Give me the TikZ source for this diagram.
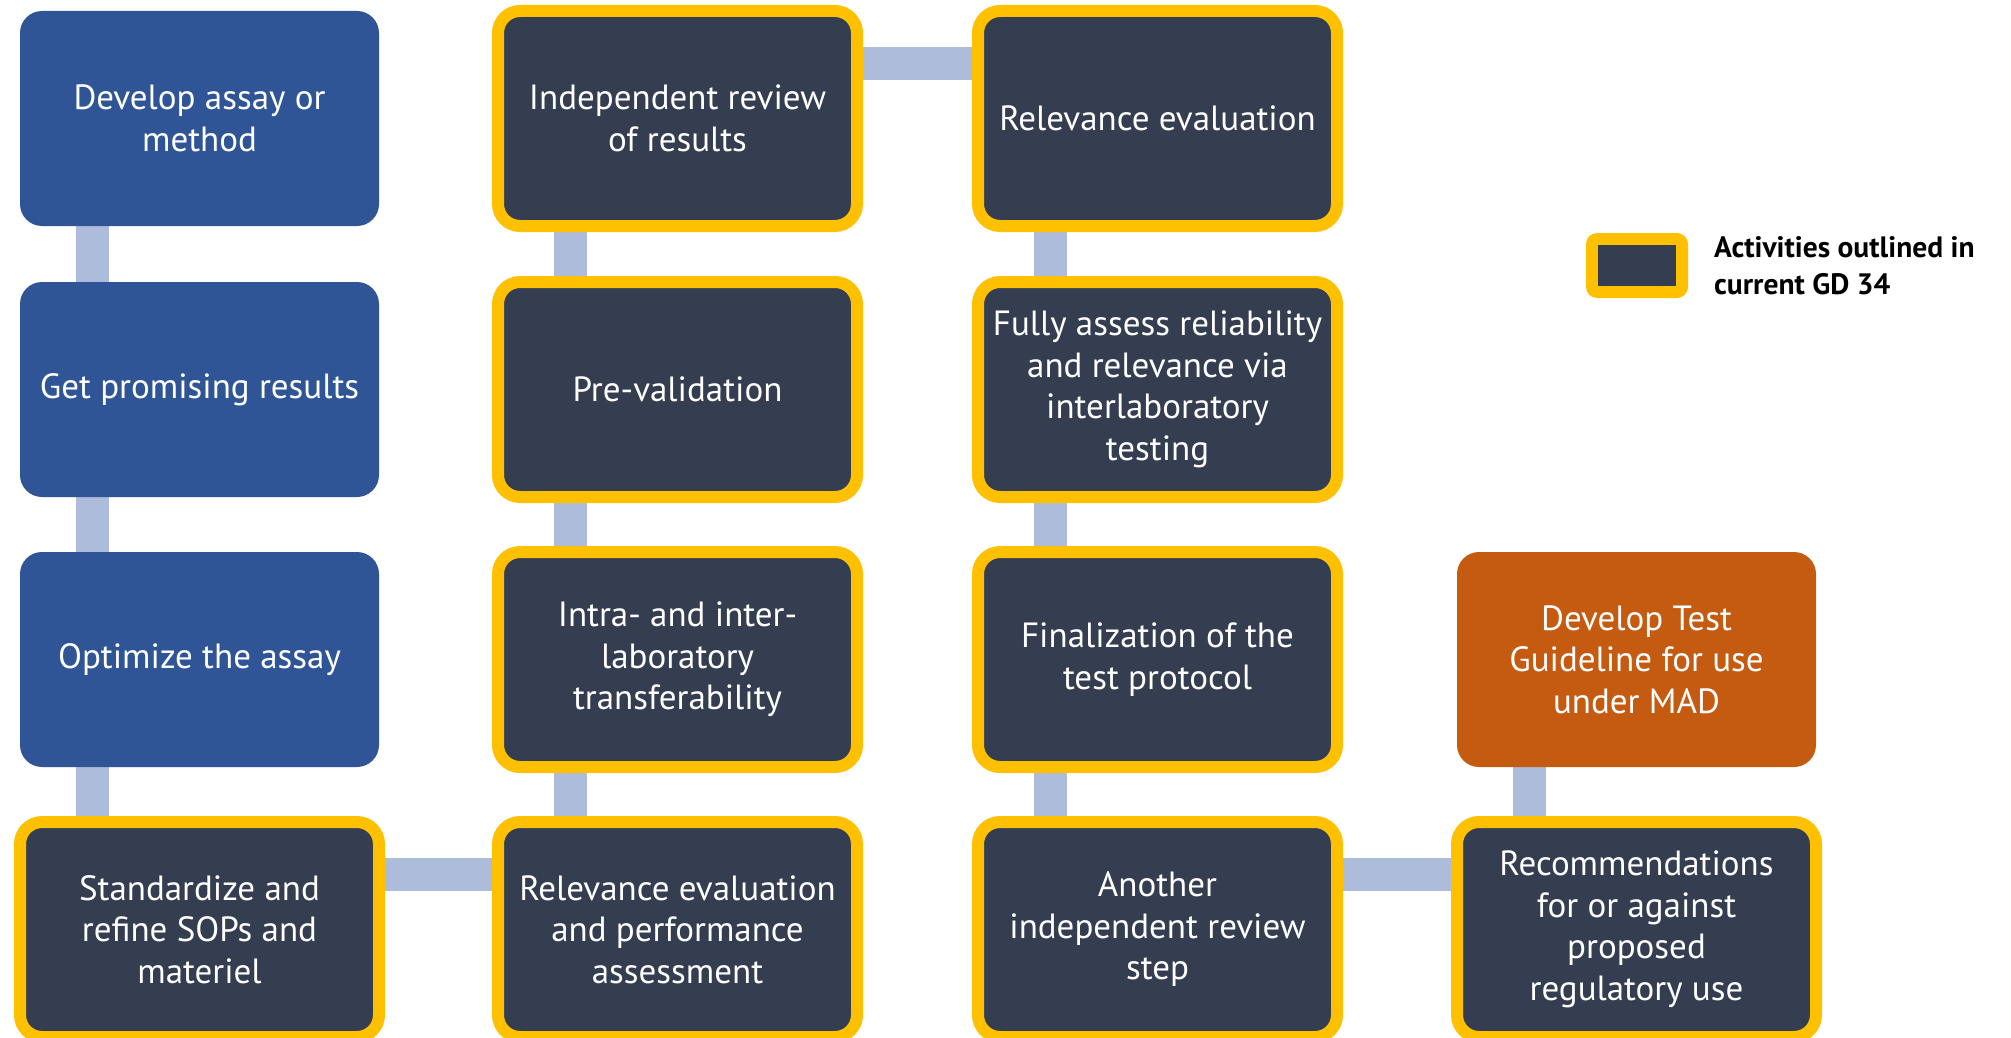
\documentclass[tikz,border=0pt]{standalone}
\usepackage{fontspec}
\setmainfont{PT Sans}
\usetikzlibrary{backgrounds}
\definecolor{stepblue}{HTML}{2F5597}
\definecolor{slate}{HTML}{343E50}
\definecolor{gold}{HTML}{FFC000}
\definecolor{rust}{HTML}{C55A11}
\definecolor{link}{HTML}{AEBCDC}
\tikzset{
  box/.style={rectangle, minimum width=359pt, minimum height=215pt,
    rounded corners=22pt, align=center, text=white, inner sep=0pt,
    font=\fontsize{35}{41.5}\selectfont},
  planbox/.style={box, fill=stepblue},
  gdbox/.style={box, fill=slate, draw=gold, line width=12pt},
  tgbox/.style={box, fill=rust},
  conn/.style={draw=link, line width=33pt, line cap=butt},
}
\begin{document}
\begin{tikzpicture}[x=1pt, y=-1pt]
\useasboundingbox (0,0) rectangle (2011,1038);
% column 1
\node[planbox] (a1) at (199.5,118.5) {Develop assay or\\method};
\node[planbox] (a2) at (199.5,389.5) {Get promising results};
\node[planbox] (a3) at (199.5,659.5) {Optimize the assay};
\node[gdbox]   (a4) at (199.5,929.5) {Standardize and\\refine SOPs and\\materiel};
% column 2
\node[gdbox] (b1) at (677.5,118.5) {Independent review\\of results};
\node[gdbox] (b2) at (677.5,389.5) {Pre-validation};
\node[gdbox] (b3) at (677.5,659.5) {Intra- and inter-\\laboratory\\transferability};
\node[gdbox] (b4) at (677.5,929.5) {Relevance evaluation\\and performance\\assessment};
% column 3
\node[gdbox] (c1) at (1157.5,118.5) {Relevance evaluation};
\node[gdbox] (c2) at (1157.5,389.5) {Fully assess reliability\\and relevance via\\interlaboratory\\testing};
\node[gdbox] (c3) at (1157.5,659.5) {Finalization of the\\test protocol};
\node[gdbox] (c4) at (1157.5,929.5) {Another\\independent review\\step};
% column 4
\node[tgbox] (d3) at (1636.5,659.5) {Develop Test\\Guideline for use\\under MAD};
\node[gdbox] (d4) at (1636.5,929.5) {Recommendations\\for or against\\proposed\\regulatory use};
% legend
\node[fill=gold, rounded corners=11pt, minimum width=102pt, minimum height=65pt, inner sep=0pt] (key) at (1637,265.5) {};
\node[fill=slate, minimum width=78pt, minimum height=41pt, inner sep=0pt] (keyin) at (key.center) {};
\node[anchor=west, align=left, inner sep=0pt, font=\bfseries\fontsize{29.5}{37}\selectfont] (keytext) at (1714,266) {Activities outlined in\\current GD 34};
% connectors behind the boxes
\begin{scope}[on background layer]
\fill[white] (0,0) rectangle (2011,1038);
\foreach \u/\v in {a1/a2, a2/a3, a3/a4, b1/b2, b2/b3, b3/b4, c1/c2, c2/c3, c3/c4, d3/d4}
  \draw[conn] ([xshift=-107pt]\u.south) -- ([xshift=-107pt]\v.north);
\foreach \u/\v in {a4/b4, b1/c1, c4/d4}
  \draw[conn] ([yshift=55pt]\u.east) -- ([yshift=55pt]\v.west);
\end{scope}
\end{tikzpicture}
\end{document}
